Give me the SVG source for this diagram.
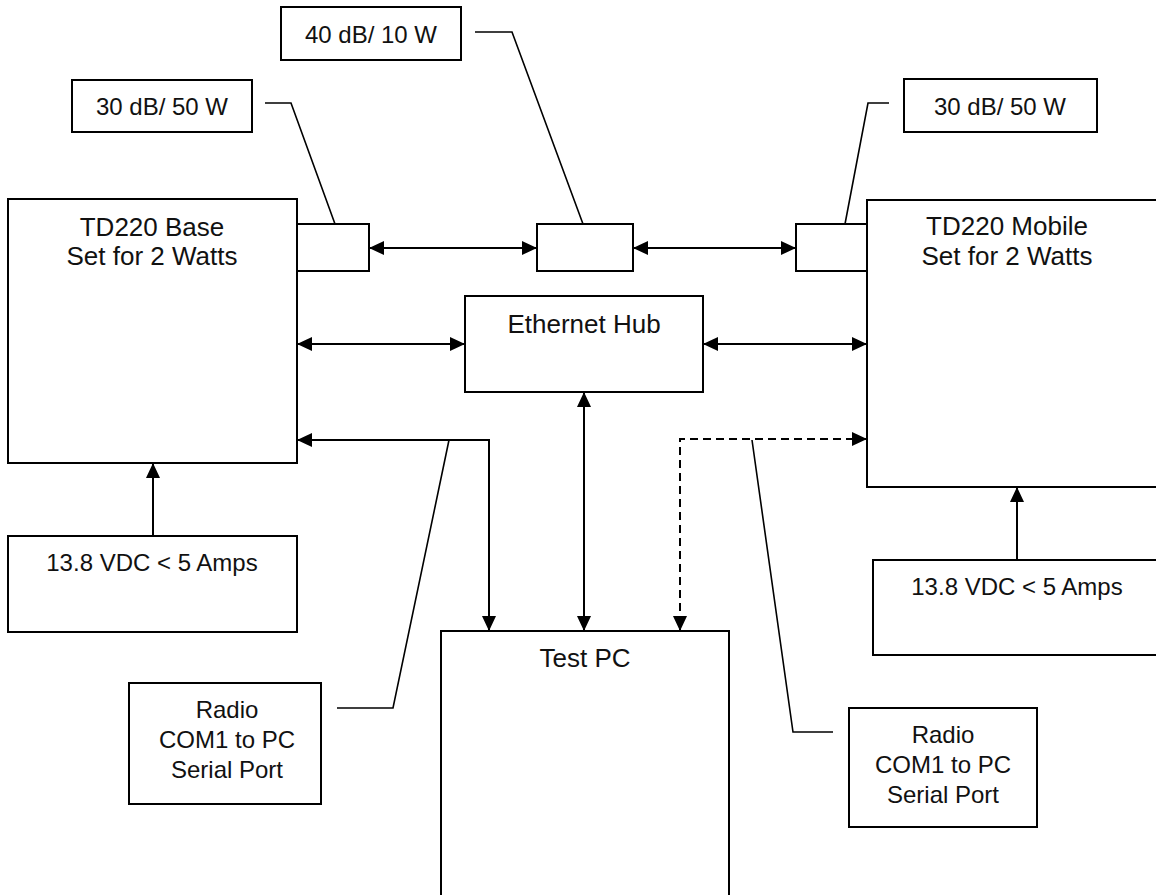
<svg xmlns="http://www.w3.org/2000/svg" width="1156" height="895" viewBox="0 0 1156 895">
<style>
.box{fill:#fff;stroke:#000;stroke-width:2}
.ln{fill:none;stroke:#000;stroke-width:2}
.ld{fill:none;stroke:#000;stroke-width:1.6}
.dash{stroke-dasharray:8 5}
text{font-family:"Liberation Sans",Arial,sans-serif;fill:#111;text-anchor:middle}
.t1{font-size:26px}
.t2{font-size:24px}
</style>
<defs>
<marker id="ah" viewBox="0 0 15 14" refX="15" refY="7" markerWidth="15" markerHeight="14" markerUnits="userSpaceOnUse" orient="auto-start-reverse">
<path d="M0,0 L15,7 L0,14 z" fill="#000"/>
</marker>
</defs>
<rect width="1156" height="895" fill="#fff"/>
<g id="base"><rect class="box" x="8" y="199" width="289" height="264"/><text class="t1" x="152" y="236">TD220 Base</text><text class="t1" x="152" y="265">Set for 2 Watts</text></g>
<g id="mobile"><rect class="box" x="867" y="200" width="300" height="287"/><text class="t1" x="1007" y="235">TD220 Mobile</text><text class="t1" x="1007" y="265">Set for 2 Watts</text></g>
<g id="attL"><rect class="box" x="297" y="224" width="72" height="47"/></g>
<g id="attM"><rect class="box" x="537" y="224" width="96" height="47"/></g>
<g id="attR"><rect class="box" x="796" y="224" width="71" height="47"/></g>
<g id="hub"><rect class="box" x="465" y="296" width="238" height="96"/><text class="t1" x="584" y="333">Ethernet Hub</text></g>
<g id="pc"><rect class="box" x="441" y="631" width="288" height="270"/><text class="t1" x="585" y="667">Test PC</text></g>
<g id="pwrL"><rect class="box" x="8" y="536" width="289" height="96"/><text class="t2" x="152" y="571">13.8 VDC &lt; 5 Amps</text></g>
<g id="pwrR"><rect class="box" x="873" y="560" width="300" height="95"/><text class="t2" x="1017" y="595">13.8 VDC &lt; 5 Amps</text></g>
<g id="lbl30L"><rect class="box" x="72" y="80" width="180" height="52"/><text class="t2" x="162" y="115">30 dB/ 50 W</text></g>
<g id="lbl40"><rect class="box" x="281" y="7" width="180" height="53"/><text class="t2" x="371" y="43">40 dB/ 10 W</text></g>
<g id="lbl30R"><rect class="box" x="904" y="79" width="193" height="53"/><text class="t2" x="1000" y="115">30 dB/ 50 W</text></g>
<g id="radioL"><rect class="box" x="129" y="683" width="192" height="121"/><text class="t2" x="227" y="718">Radio</text><text class="t2" x="227" y="748">COM1 to PC</text><text class="t2" x="227" y="778">Serial Port</text></g>
<g id="radioR"><rect class="box" x="849" y="708" width="188" height="119"/><text class="t2" x="943" y="743">Radio</text><text class="t2" x="943" y="773">COM1 to PC</text><text class="t2" x="943" y="803">Serial Port</text></g>
<g id="connectors">
<line class="ln" x1="369" y1="248" x2="537" y2="248" marker-start="url(#ah)" marker-end="url(#ah)"/>
<line class="ln" x1="633" y1="248" x2="796" y2="248" marker-start="url(#ah)" marker-end="url(#ah)"/>
<line class="ln" x1="297" y1="344" x2="465" y2="344" marker-start="url(#ah)" marker-end="url(#ah)"/>
<line class="ln" x1="703" y1="344" x2="867" y2="344" marker-start="url(#ah)" marker-end="url(#ah)"/>
<line class="ln" x1="584" y1="392" x2="584" y2="631" marker-start="url(#ah)" marker-end="url(#ah)"/>
<polyline class="ln" points="297,440 489,440 489,631" marker-start="url(#ah)" marker-end="url(#ah)"/>
<polyline class="ln dash" points="867,439 680,439 680,631" marker-start="url(#ah)" marker-end="url(#ah)"/>
<line class="ln" x1="153" y1="536" x2="153" y2="463" marker-end="url(#ah)"/>
<line class="ln" x1="1017" y1="560" x2="1017" y2="487" marker-end="url(#ah)"/>
<polyline class="ld" points="265,103 291,103 335,224"/>
<polyline class="ld" points="475,32 512,32 583,224"/>
<polyline class="ld" points="889,103 868,103 845,224"/>
<polyline class="ld" points="337,708 393,708 449,440"/>
<polyline class="ld" points="833,732 793,732 752,440"/>
</g>
</svg>
